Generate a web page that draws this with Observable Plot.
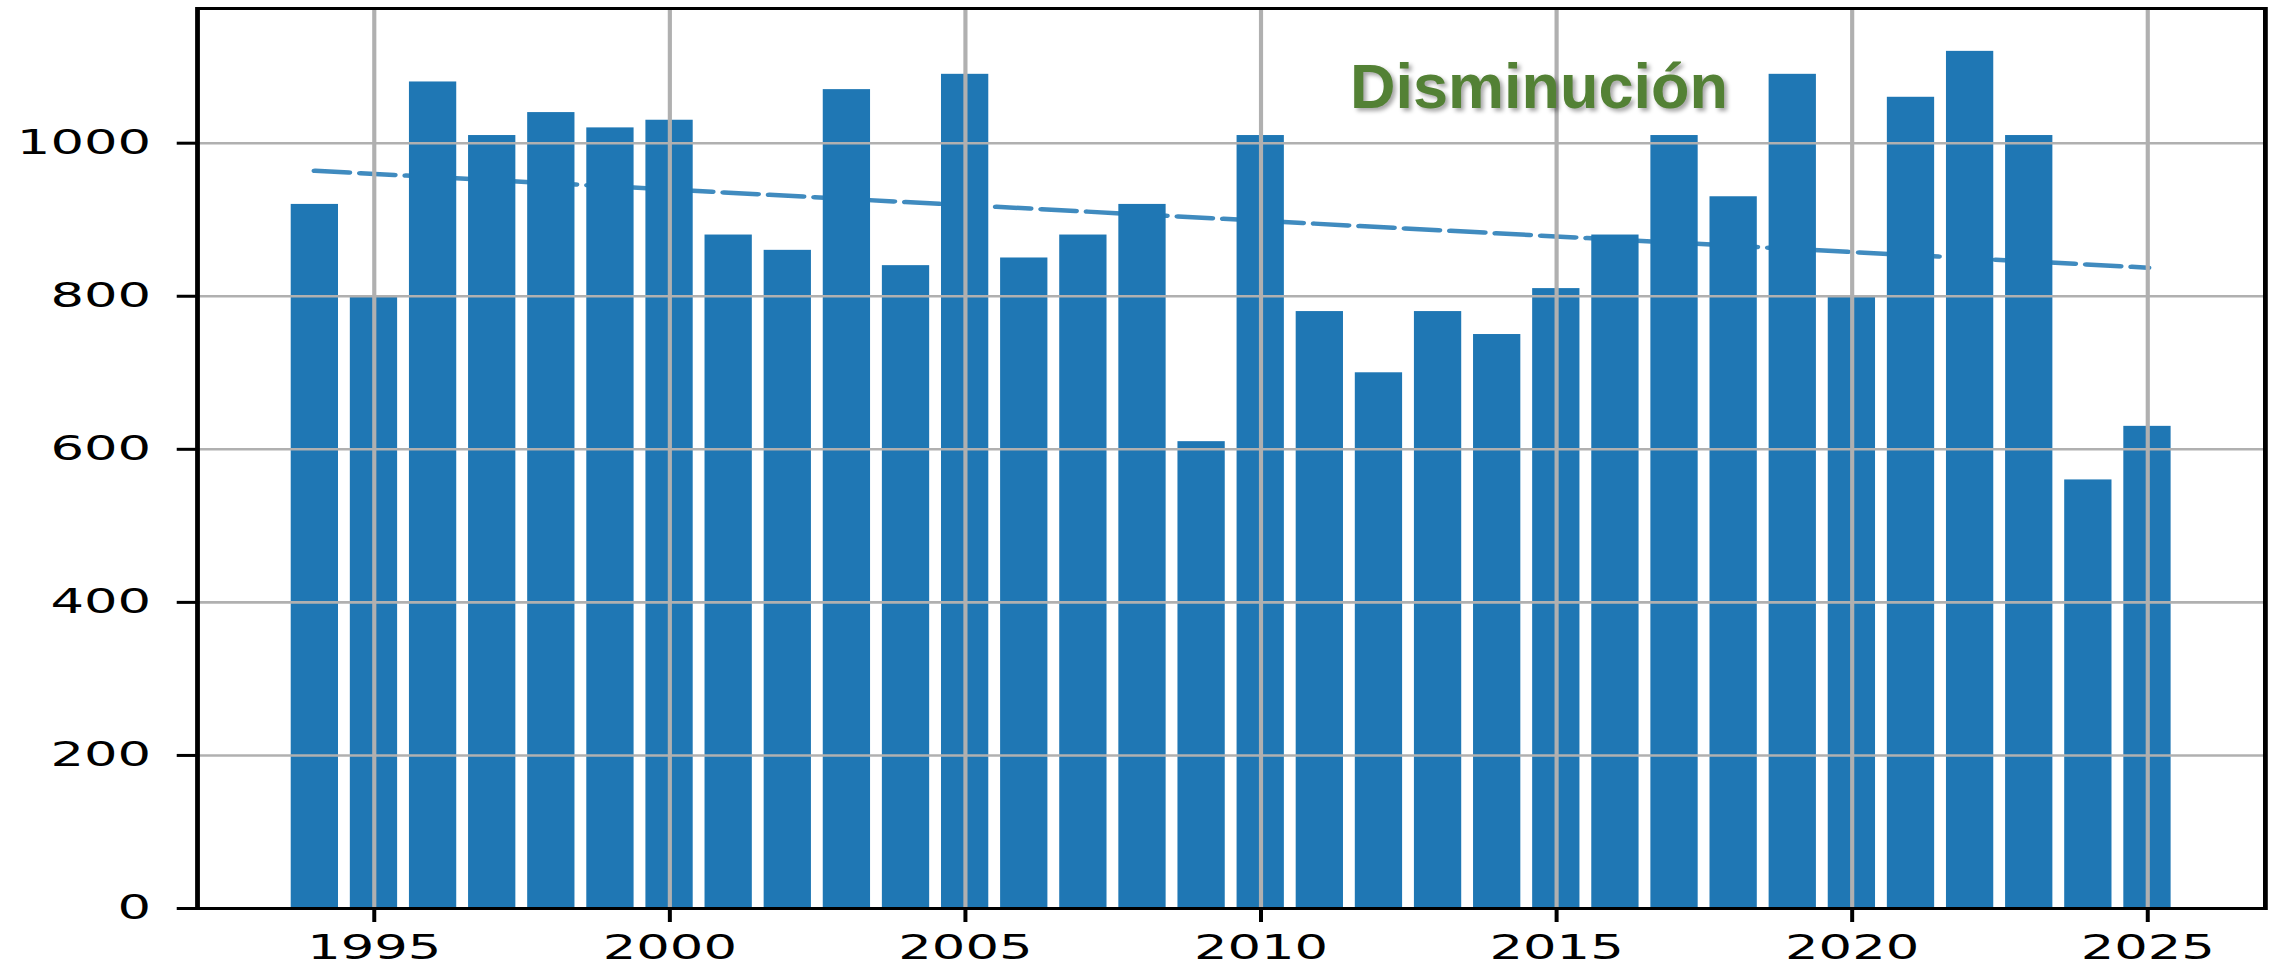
<!DOCTYPE html>
<html>
<head>
<meta charset="utf-8">
<script src="https://cdn.jsdelivr.net/npm/d3@7"></script>
<script src="https://cdn.jsdelivr.net/npm/@observablehq/plot@0.6"></script>
<style>
  html, body { margin: 0; padding: 0; background: #fff; }
  #wrap { position: relative; width: 2271px; height: 966px; overflow: hidden; }
  #wrap svg.overlay { position: absolute; left: 0; top: 0; pointer-events: none; }
</style>
</head>
<body>
<div id="wrap"></div>
<script>
// Yearly totals, 1994–2025
const years = [1994, 1995, 1996, 1997, 1998, 1999, 2000, 2001, 2002, 2003, 2004,
               2005, 2006, 2007, 2008, 2009, 2010, 2011, 2012, 2013, 2014, 2015,
               2016, 2017, 2018, 2019, 2020, 2021, 2022, 2023, 2024, 2025];
const values = [920, 800, 1080, 1010, 1040, 1020, 1030, 880, 860, 1070, 840,
                1090, 850, 880, 920, 610, 1010, 780, 700, 780, 750, 810,
                880, 1010, 930, 1090, 800, 1060, 1120, 1010, 560, 630];
const xTicks = [1995, 2000, 2005, 2010, 2015, 2020, 2025];
const yTicks = [0, 200, 400, 600, 800, 1000];
const annotation = "Disminución";

const data = years.map((year, i) => ({year, value: values[i]}));

// The chart is drawn on a narrower canvas and then stretched horizontally
// to fill the page width.
const PAGE_W = 2271, PAGE_H = 966;
const W = 1420;
const BLUE = "#1f77b4";

const chart = Plot.plot({
  width: W,
  height: PAGE_H,
  marginLeft: 123,
  marginRight: 4,
  marginTop: 8,
  marginBottom: 58,
  style: {fontFamily: "DejaVu Sans", fontSize: "33px", color: "#000", background: "#fff"},
  x: {type: "linear", domain: [1992.01, 2026.99]},
  y: {domain: [0, 1176]},
  marks: [
    // dashed linear trend, drawn beneath the bars
    Plot.linearRegressionY(data, {
      x: "year", y: "value", ci: 0,
      stroke: BLUE, strokeOpacity: 0.85, strokeWidth: 4.5,
      strokeDasharray: "21,7.5"
    }),
    Plot.rectY(data, {x1: d => d.year - 0.4, x2: d => d.year + 0.4, y: "value", fill: BLUE}),
    Plot.gridX(xTicks, {stroke: "#b0b0b0", strokeOpacity: 1, strokeWidth: 2.6}),
    Plot.gridY(yTicks, {stroke: "#b0b0b0", strokeOpacity: 1, strokeWidth: 2.6}),
    Plot.axisX({ticks: xTicks, tickFormat: d => String(d), tickSize: 14, tickPadding: 13,
                strokeWidth: 2.5, label: null, fontSize: 33}),
    Plot.axisY({ticks: yTicks, tickFormat: d => String(d), tickSize: 12.5, tickPadding: 16.5,
                strokeWidth: 3, label: null, fontSize: 33}),
    Plot.frame({stroke: "#000", strokeWidth: 3})
  ]
});

chart.setAttribute("width", PAGE_W);
chart.setAttribute("height", PAGE_H);
chart.setAttribute("preserveAspectRatio", "none");
chart.style.width = PAGE_W + "px";
chart.style.height = PAGE_H + "px";
chart.style.maxWidth = "none";
chart.style.display = "block";

const wrap = document.getElementById("wrap");
wrap.appendChild(chart);

// Annotation label with drop shadow, drawn unstretched on top of the chart
const ns = "http://www.w3.org/2000/svg";
const overlay = document.createElementNS(ns, "svg");
overlay.setAttribute("class", "overlay");
overlay.setAttribute("width", PAGE_W);
overlay.setAttribute("height", PAGE_H);
const label = document.createElementNS(ns, "text");
label.setAttribute("x", 1350);
label.setAttribute("y", 108);
label.setAttribute("font-family", "Liberation Sans, Arial, sans-serif");
label.setAttribute("font-weight", "bold");
label.setAttribute("font-size", 63);
label.setAttribute("fill", "#538135");
label.style.filter = "drop-shadow(3px 3px 2px rgba(0,0,0,0.35))";
label.textContent = annotation;
overlay.appendChild(label);
wrap.appendChild(overlay);
</script>
</body>
</html>
